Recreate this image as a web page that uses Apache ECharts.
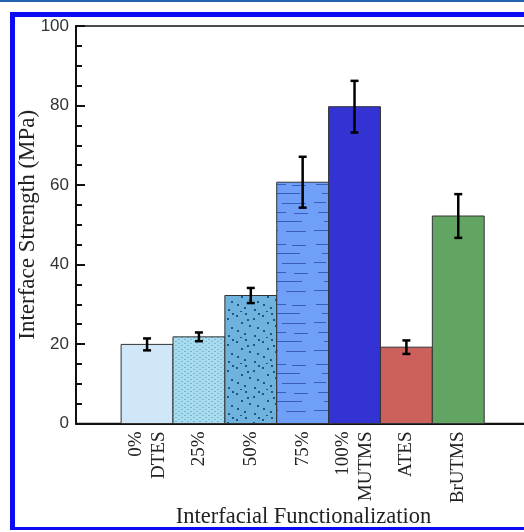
<!DOCTYPE html>
<html>
<head>
<meta charset="utf-8">
<script src="https://cdn.jsdelivr.net/npm/echarts@6/dist/echarts.min.js"></script>
<style>
    html, body { margin: 0; padding: 0; background: #fff; }
    #wrap { position: relative; width: 524px; height: 532px; overflow: hidden; }
    #main { position: absolute; left: 0; top: 0; width: 524px; height: 532px; }
    #topline { position: absolute; left: 0; top: 0; width: 524px; height: 2px; background: #2462b0; }
    #frame {
        position: absolute; left: 10px; top: 12px; width: 600px; height: 518px;
        box-sizing: border-box; pointer-events: none;
        border-left: 5px solid #0c0cf2; border-top: 5px solid #0c0cf2; border-bottom: 3px solid #0c0cf2;
    }
</style>
</head>
<body>
<div id="wrap">
    <div id="main"></div>
    <div id="topline"></div>
    <div id="frame"></div>
</div>
<script>
    // values
    var categories = ['0%\nDTES', '25%', '50%', '75%', '100%\nMUTMS', 'ATES', 'BrUTMS'];
    var strength = [19.9, 21.8, 32.2, 60.7, 79.7, 19.2, 52.2];
    var errorBar = [1.5, 1.1, 1.9, 6.4, 6.5, 1.7, 5.5];
    var yTicks = [0, 20, 40, 60, 80, 100];

    function makePattern(w, h, bg, draw) {
        var c = document.createElement('canvas');
        c.width = w;
        c.height = h;
        var ctx = c.getContext('2d');
        ctx.fillStyle = bg;
        ctx.fillRect(0, 0, w, h);
        draw(ctx);
        return {image: c, repeat: 'repeat'};
    }

    var dotted = makePattern(6, 4, '#aadcf0', function (ctx) {
        ctx.fillStyle = '#78b8d4';
        ctx.fillRect(1, 1, 2, 1);
        ctx.fillRect(4, 3, 2, 1);
    });

    var speckled = makePattern(26, 26, '#70b2de', function (ctx) {
        ctx.fillStyle = '#1d5688';
        var pts = [[2, 3], [11, 1], [19, 6], [7, 10], [15, 13], [23, 15], [3, 18], [10, 21], [20, 23], [13, 7], [24, 1], [6, 25]];
        pts.forEach(function (p) { ctx.fillRect(p[0], p[1], 2, 2); });
    });

    var dashed = makePattern(52, 60, '#6f9ff6', function (ctx) {
        ctx.fillStyle = '#3a5cbc';
        var segs = [[4, 4, 22], [32, 5, 14], [10, 13, 30], [2, 22, 12], [22, 23, 24], [6, 32, 20], [34, 33, 14], [12, 41, 30], [2, 50, 16], [26, 51, 20]];
        segs.forEach(function (s) { ctx.fillRect(s[0], s[1], s[2], 1); });
    });

    var fills = ['#cfe7f8', dotted, speckled, dashed, '#3333d4', '#cc605c', '#62a462'];

    var barData = strength.map(function (v, i) {
        return [i, v];
    });
    var errData = strength.map(function (v, i) {
        return [i, v, errorBar[i]];
    });

    var serif = '"Liberation Serif", "Times New Roman", serif';
    var sans = '"Liberation Sans", Arial, sans-serif';

    var chart = echarts.init(document.getElementById('main'));
    chart.setOption({
        animation: false,
        grid: {
            left: 76, top: 26, width: 486, bottom: 108.5,
            outerBoundsMode: 'none',
            containLabel: false,
            show: true, borderColor: '#111', borderWidth: 1.5, backgroundColor: 'transparent'
        },
        xAxis: {
            type: 'value',
            min: -1.37,
            max: 8,
            name: 'Interfacial Functionalization',
            nameLocation: 'middle',
            nameGap: 82,
            nameMoveOverlap: false,
            nameTextStyle: {fontFamily: serif, fontSize: 22.5, color: '#222', padding: [0, 31, 0, 0]},
            splitLine: {show: false},
            axisTick: {show: false},
            axisLine: {onZero: false, lineStyle: {color: '#111', width: 2}},
            axisLabel: {
                customValues: categories.map(function (c, i) { return i; }),
                formatter: function (v) { return categories[Math.round(v)]; },
                rotate: 90,
                margin: 8,
                fontFamily: serif,
                fontSize: 19,
                lineHeight: 23,
                color: '#222'
            }
        },
        yAxis: {
            type: 'value',
            min: 0,
            max: 100,
            interval: 20,
            name: 'Interface Strength (MPa)',
            nameLocation: 'middle',
            nameGap: 37,
            nameMoveOverlap: false,
            nameRotate: 90,
            nameTextStyle: {fontFamily: serif, fontSize: 23, color: '#222'},
            splitLine: {show: false},
            axisLine: {show: true, onZero: false, lineStyle: {color: '#111', width: 2}},
            axisTick: {inside: true, length: 9, lineStyle: {color: '#111', width: 2}},
            minorTick: {show: true, splitNumber: 4, length: 6, lineStyle: {color: '#111', width: 2}},
            axisLabel: {
                customValues: yTicks,
                margin: 7,
                fontFamily: sans,
                fontSize: 17,
                color: '#333'
            }
        },
        series: [{
            // bars: one category unit wide, no gap
            type: 'custom',
            data: barData,
            z: 2,
            renderItem: function (params, api) {
                var x = api.value(0);
                var y = api.value(1);
                var tl = api.coord([x - 0.5, y]);
                var br = api.coord([x + 0.5, 0]);
                return {
                    type: 'rect',
                    shape: {x: tl[0], y: tl[1], width: br[0] - tl[0], height: br[1] - tl[1]},
                    style: {fill: fills[params.dataIndex], stroke: '#333', lineWidth: 1}
                };
            }
        }, {
            type: 'custom',
            data: errData,
            z: 5,
            renderItem: function (params, api) {
                var x = api.value(0);
                var y = api.value(1);
                var e = api.value(2);
                var hi = api.coord([x, y + e]);
                var lo = api.coord([x, y - e]);
                var style = {stroke: '#000', lineWidth: 2.5};
                return {
                    type: 'group',
                    children: [
                        {type: 'line', shape: {x1: hi[0], y1: hi[1], x2: lo[0], y2: lo[1]}, style: style},
                        {type: 'line', shape: {x1: hi[0] - 4, y1: hi[1], x2: hi[0] + 4, y2: hi[1]}, style: style},
                        {type: 'line', shape: {x1: lo[0] - 4, y1: lo[1], x2: lo[0] + 4, y2: lo[1]}, style: style}
                    ]
                };
            }
        }]
    });
</script>
</body>
</html>
